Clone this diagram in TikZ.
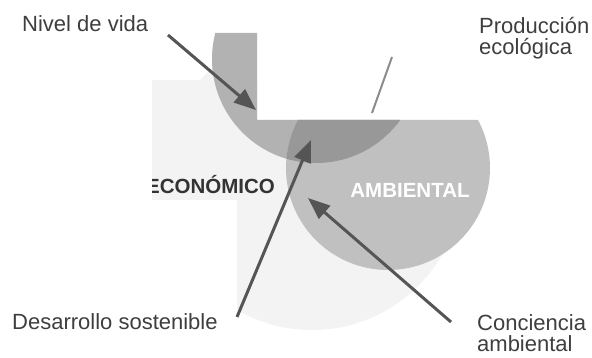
\documentclass[tikz,border=0pt]{standalone}
\usepackage{fontspec}
\setmainfont{Liberation Sans}
\usetikzlibrary{arrows.meta}
\definecolor{fondo}{RGB}{243,243,243}
\definecolor{econ}{RGB}{178,178,178}
\definecolor{amb}{RGB}{192,192,192}
\definecolor{cruce}{RGB}{152,152,152}
\definecolor{grisflecha}{RGB}{85,85,85}
\definecolor{grislinea}{RGB}{140,140,140}
\definecolor{gristexto}{RGB}{62,62,62}
\tikzset{
 rotulo/.style={inner sep=0pt,text=gristexto,font=\fontsize{22}{21}\selectfont},
 circulo/.style={inner sep=0pt,font=\bfseries\fontsize{20.5}{22}\selectfont},
 flecha/.style={draw=grisflecha,line width=3pt,-{Triangle[length=22pt,width=17pt]}},
 linea/.style={draw=grislinea,line width=2pt}
}
\begin{document}
\begin{tikzpicture}[x=1pt,y=-1pt]
 \useasboundingbox (0,0) rectangle (592,358);
 \begin{scope}
 \clip (152,33)--(257,33)--(257,120)--(592,120)--(592,358)--(237,358)--(237,200)--(152,200)--cycle;
 \fill[fondo](152,80) rectangle (300,200);
 \fill[fondo](312,180) circle (150);
 \fill[econ](316,59) circle (104);
 \fill[amb](388,168) circle (102);
 \begin{scope}
 \clip (316,59) circle (104);
 \fill[cruce](388,168) circle (102);
 \end{scope}
 \node[circulo,text=black!80,anchor=base west] (economico) at (146,194) {ECONÓMICO};
 \end{scope}
 \node[circulo,text=white,anchor=base] (ambiental) at (410,198) {AMBIENTAL};
 \node[rotulo,anchor=base west] (nivel) at (22,32) {Nivel de vida};
 \node[rotulo,anchor=north west,align=left] (produccion) at (479,17.5) {Producción\\ecológica};
 \node[rotulo,anchor=base west] (desarrollo) at (12,330) {Desarrollo sostenible};
 \node[rotulo,anchor=north west,align=left] (conciencia) at (477,314) {Conciencia\\ambiental};
 \coordinate (nivelcola) at (168,35);
 \coordinate (nivelpunta) at (256,110);
 \coordinate (prodcola) at (392,57);
 \coordinate (prodpie) at (372,113);
 \coordinate (desacola) at (237,317);
 \coordinate (desapunta) at (311,140);
 \coordinate (concola) at (451,322);
 \coordinate (conpunta) at (308,198);
 \draw[flecha](nivelcola)--(nivelpunta);
 \draw[linea](prodcola)--(prodpie);
 \draw[flecha](desacola)--(desapunta);
 \draw[flecha](concola)--(conpunta);
\end{tikzpicture}
\end{document}
